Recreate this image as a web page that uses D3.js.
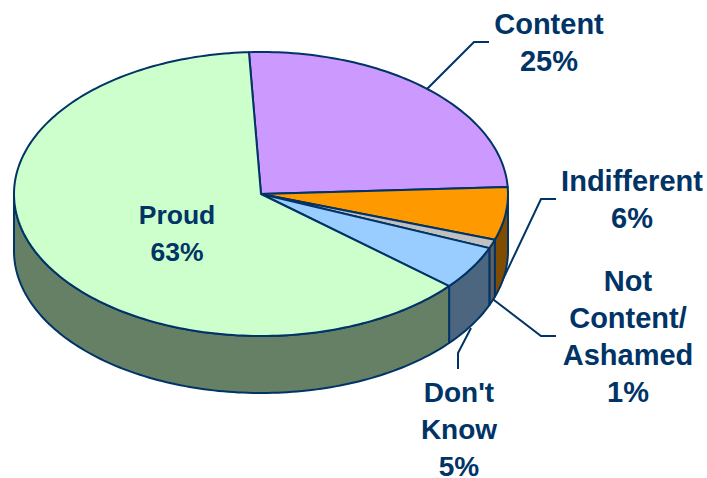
<!DOCTYPE html>
<html lang="en">
<head>
  <meta charset="UTF-8">
  <title>Pie</title>
  <script src="https://cdnjs.cloudflare.com/ajax/libs/d3/7.8.5/d3.min.js"></script>
  <style>
    * { margin: 0; padding: 0; }
    html, body { width: 100%; height: 100%; background: #fff; overflow: hidden; }
    svg { display: block; }
    text { font-family: "Liberation Sans", Arial, sans-serif; font-weight: bold; font-size: 29px; fill: #003366; text-anchor: middle; }
  </style>
</head>
<body>
<div id="box"></div>
<script>
  // data, clockwise from the top slice boundary
  var categories = ['Content', 'Indifferent', 'Not Content/Ashamed', "Don't Know", 'Proud']
  var values = [25, 6, 1, 5, 63]
  var topColors = ['#cc99ff', '#ff9900', '#c0c0c0', '#99ccff', '#ccffcc']
  var sideColors = ['#664d80', '#804d00', '#606060', '#4d6680', '#668066']

  var width = 707
  var height = 478
  var cx = 261, cy = 194, rx = 247, ry = 142, depth = 57
  var navy = '#003366'
  var start = -2.8 * Math.PI / 180

  var svg = d3.select('#box').append('svg').attr('width', width).attr('height', height)

  var pie = d3.pie().sort(null).startAngle(start).endAngle(start + 2 * Math.PI)
  var slices = pie(values)

  // tilted circle: angle 0 is up, clockwise
  function px(a) { return cx + rx * Math.sin(a) }
  function py(a, dz) { return cy - ry * Math.cos(a) + (dz || 0) }

  function rimAngles(a0, a1) {
    var n = Math.max(2, Math.ceil((a1 - a0) / 0.02))
    return d3.range(n + 1).map(function (i) { return a0 + (a1 - a0) * i / n })
  }

  var line = d3.line()

  // leader lines go first, the pie covers their ends
  var leaders = [
    [[427, 89], [474, 42], [489, 42]],
    [[497, 292], [541, 199], [556, 199]],
    [[490, 297], [541, 336], [556, 336]],
    [[471, 328], [458, 353], [458, 369]]
  ]
  svg.selectAll('.leader').data(leaders).enter().append('path')
    .attr('class', 'leader')
    .attr('d', line)
    .attr('fill', 'none')
    .attr('stroke', navy)
    .attr('stroke-width', 2)

  // walls, only the front half of the rim is visible
  var frontA = Math.PI / 2, frontB = 3 * Math.PI / 2
  function wall(d) {
    var a0 = Math.max(d.startAngle, frontA), a1 = Math.min(d.endAngle, frontB)
    if (a1 <= a0) return null
    var rim = rimAngles(a0, a1)
    var upper = rim.map(function (a) { return [px(a), py(a)] })
    var lower = rim.slice().reverse().map(function (a) { return [px(a), py(a, depth)] })
    return line(upper.concat(lower)) + 'Z'
  }
  svg.selectAll('.wall').data(slices).enter().append('path')
    .attr('class', 'wall')
    .attr('d', wall)
    .attr('fill', function (d, i) { return sideColors[i] })
    .attr('stroke', navy)
    .attr('stroke-width', 2)
    .attr('stroke-linejoin', 'round')

  // top face
  svg.selectAll('.slice').data(slices).enter().append('path')
    .attr('class', 'slice')
    .attr('d', function (d) {
      var pts = rimAngles(d.startAngle, d.endAngle).map(function (a) { return [px(a), py(a)] })
      return line([[cx, cy]].concat(pts)) + 'Z'
    })
    .attr('fill', function (d, i) { return topColors[i] })
    .attr('stroke', navy)
    .attr('stroke-width', 2)
    .attr('stroke-linejoin', 'round')

  // labels
  var labelLines = [
    ['Content', values[0] + '%'],
    ['Indifferent', values[1] + '%'],
    ['Not', 'Content/', 'Ashamed', values[2] + '%'],
    ["Don't", 'Know', values[3] + '%'],
    ['Proud', values[4] + '%']
  ]
  var labelPos = [[549, 34], [632, 191], [628, 291], [459, 402], [177, 224]]
  var labelSize = [29, 29, 29, 28, 26.5]
  var lineStep = 37

  labelLines.forEach(function (rows, i) {
    svg.append('text')
      .attr('data-category', categories[i])
      .style('font-size', labelSize[i] + 'px')
      .selectAll('tspan').data(rows).enter().append('tspan')
      .attr('x', labelPos[i][0])
      .attr('y', function (d, j) { return labelPos[i][1] + j * lineStep })
      .text(function (d) { return d })
  })
</script>
</body>
</html>
